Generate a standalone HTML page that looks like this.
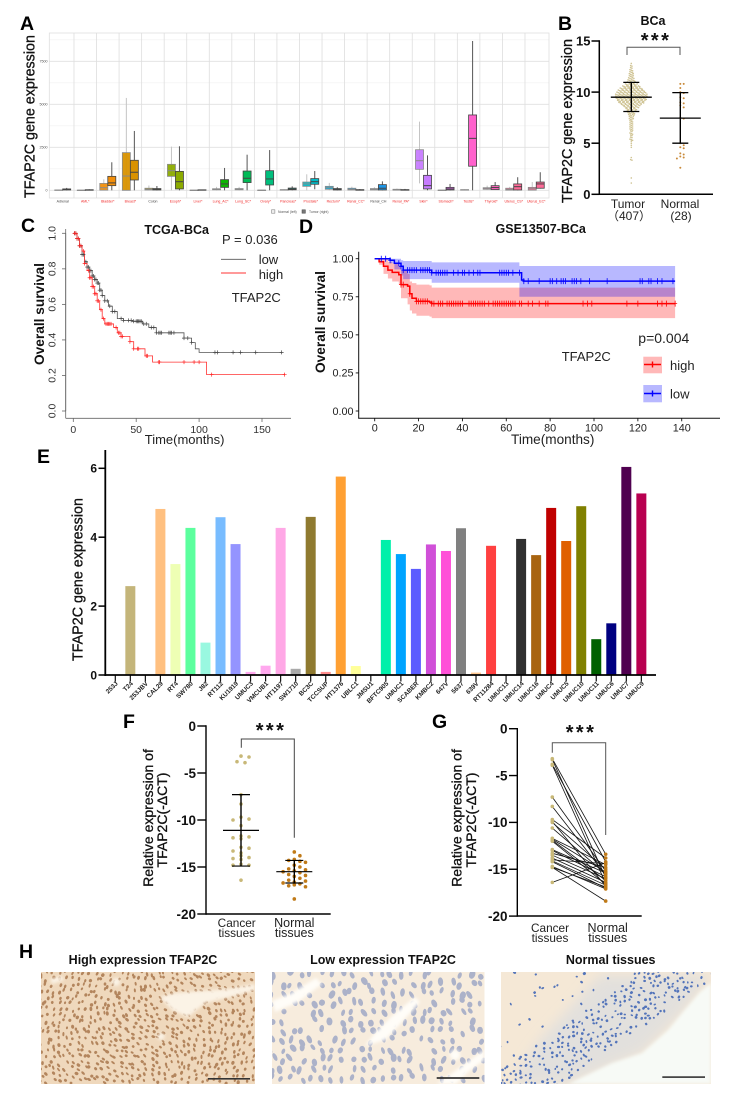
<!DOCTYPE html>
<html lang="en">
<head>
<meta charset="utf-8">
<title>TFAP2C expression figure</title>
<style>
html,body{margin:0;padding:0;background:#fff;}
svg{display:block;font-family:"Liberation Sans","Noto Sans CJK SC",sans-serif;}
.letter{font-size:19.5px;font-weight:bold;fill:#000;}
.title{font-size:12.5px;font-weight:bold;fill:#111;}
.faux{stroke:#111;stroke-width:.3px;fill:#111;}
.lab{fill:#222;}
.stars{font-size:20px;font-weight:bold;fill:#111;letter-spacing:2.4px;}
</style>
</head>
<body>
<svg id="fig" xmlns="http://www.w3.org/2000/svg" width="730" height="1094" viewBox="0 0 730 1094">
<defs>
<clipPath id="clip1"><rect x="41" y="972" width="214" height="112"/></clipPath>
<clipPath id="clip2"><rect x="272" y="972" width="212.5" height="112"/></clipPath>
<clipPath id="clip3"><rect x="501" y="972" width="210" height="112"/></clipPath>
<filter id="soft" x="-20%" y="-20%" width="140%" height="140%"><feGaussianBlur stdDeviation="1.6"/></filter>
<filter id="softer" x="-20%" y="-20%" width="140%" height="140%"><feGaussianBlur stdDeviation="6"/></filter>
</defs>
<g id="panelA">
<text class="letter" x="20" y="30">A</text>
<text class="faux" transform="translate(34.5,198) rotate(-90)" font-size="14.3">TFAP2C gene expression</text>
</g>
<g id="panelB">
<text class="letter" x="558" y="30">B</text>
<text class="title" x="653" y="25" text-anchor="middle">BCa</text>
<text class="stars" x="656" y="47" text-anchor="middle">***</text>
<path d="M627 55V47.3H680V55" fill="none" stroke="#555" stroke-width="1"/>
<text class="faux" transform="translate(572,203) rotate(-90)" font-size="14.4">TFAP2C gene expression</text>
<text class="lab" x="628" y="208" text-anchor="middle" font-size="12">Tumor</text>
<text class="lab" x="629" y="220" text-anchor="middle" font-size="12">（407）</text>
<text class="lab" x="680" y="208" text-anchor="middle" font-size="12">Normal</text>
<text class="lab" x="681" y="220" text-anchor="middle" font-size="12">(28)</text>
</g>
<g id="panelC">
<text class="letter" x="21" y="232">C</text>
<text class="title" x="176.7" y="234" text-anchor="middle">TCGA-BCa</text>
<text class="faux" transform="translate(44,314) rotate(-90)" text-anchor="middle" font-size="13.7" font-weight="bold" style="stroke-width:0">Overall survival</text>
<text class="lab" x="184.6" y="444" text-anchor="middle" font-size="13">Time(months)</text>
<text class="lab" x="222" y="244" font-size="13">P = 0.036</text>
<line x1="221" x2="246" y1="259.3" y2="259.3" stroke="#555" stroke-width=".9"/>
<text class="lab" x="258.7" y="264" font-size="13">low</text>
<line x1="221" x2="246" y1="273" y2="273" stroke="#f33" stroke-width=".9"/>
<text class="lab" x="258.7" y="279" font-size="13">high</text>
<text class="lab" x="231.7" y="302" font-size="13">TFAP2C</text>
</g>
<g id="panelD">
<text class="letter" x="299" y="233">D</text>
<text class="title" x="540.7" y="233" text-anchor="middle">GSE13507-BCa</text>
<text class="faux" transform="translate(325,322) rotate(-90)" text-anchor="middle" font-size="13.7" font-weight="bold" style="stroke-width:0">Overall survival</text>
<text class="lab" x="552.7" y="444" text-anchor="middle" font-size="13.6">Time(months)</text>
<text class="lab" x="638.3" y="343" font-size="14">p=0.004</text>
<text class="lab" x="561.7" y="361" font-size="13">TFAP2C</text>
<rect x="643.3" y="356.7" width="18.7" height="16.6" fill="#f00" fill-opacity=".28"/>
<path d="M644 364.5H661M652.5 361.5V367.5" stroke="#f00" stroke-width="1.4" fill="none"/>
<text class="lab" x="670" y="370" font-size="13">high</text>
<rect x="643.3" y="385" width="18.7" height="17.3" fill="#00f" fill-opacity=".28"/>
<path d="M644 393.5H661M652.5 390.5V396.5" stroke="#00f" stroke-width="1.4" fill="none"/>
<text class="lab" x="670" y="398.3" font-size="13">low</text>
</g>
<g id="panelE">
<text class="letter" x="37" y="463">E</text>
<text class="faux" transform="translate(82.7,661) rotate(-90)" font-size="14.3">TFAP2C gene expression</text>
</g>
<g id="panelF">
<text class="letter" x="123" y="728">F</text>
<text class="stars" x="271" y="737" text-anchor="middle">***</text>
<path d="M241.3 747.7V739H294.3V837.7" fill="none" stroke="#444" stroke-width="1"/>
<text class="faux" transform="translate(153,818) rotate(-90)" text-anchor="middle" font-size="14">Relative expression of</text>
<text class="faux" transform="translate(167,820) rotate(-90)" text-anchor="middle" font-size="14">TFAP2C(-ΔCT)</text>
<text class="lab" x="236.7" y="927" text-anchor="middle" font-size="11.8">Cancer</text>
<text class="lab" x="236.7" y="937" text-anchor="middle" font-size="11.8">tissues</text>
<text class="lab" x="294.3" y="927" text-anchor="middle" font-size="12.5">Normal</text>
<text class="lab" x="294.3" y="937" text-anchor="middle" font-size="12.5">tissues</text>
</g>
<g id="panelG">
<text class="letter" x="432" y="728">G</text>
<text class="stars" x="581" y="739" text-anchor="middle">***</text>
<path d="M552.3 752.7V742.7H605.7V835" fill="none" stroke="#555" stroke-width="1"/>
<text class="faux" transform="translate(461.7,818) rotate(-90)" text-anchor="middle" font-size="14">Relative expression of</text>
<text class="faux" transform="translate(476,820) rotate(-90)" text-anchor="middle" font-size="14">TFAP2C(-ΔCT)</text>
<text class="lab" x="550" y="932" text-anchor="middle" font-size="11.8">Cancer</text>
<text class="lab" x="550" y="942" text-anchor="middle" font-size="11.8">tissues</text>
<text class="lab" x="607.7" y="932" text-anchor="middle" font-size="12.5">Normal</text>
<text class="lab" x="607.7" y="942" text-anchor="middle" font-size="12.5">tissues</text>
</g>
<g id="panelH">
<text class="letter" x="19" y="958">H</text>
<text class="title" x="143" y="964" text-anchor="middle">High expression TFAP2C</text>
<text class="title" x="383" y="964" text-anchor="middle">Low expression TFAP2C</text>
<text class="title" x="610.7" y="964" text-anchor="middle">Normal tissues</text>
<g id="img1" clip-path="url(#clip1)">
<rect x="41" y="972" width="214" height="112" fill="#efd8bc"/>
</g>
<g id="img2" clip-path="url(#clip2)">
<rect x="272" y="972" width="212.5" height="112" fill="#f7ecdd"/>
</g>
<g id="img3" clip-path="url(#clip3)">
<rect x="501" y="972" width="210" height="112" fill="#f5e8d6"/>
</g>
</g>
</svg>
<script>
/* ---------- Panel A data ---------- */
const aCategories = ["Adrenal","AML*","Bladder*","Breast*","Colon","Esoph*","Liver*","Lung_AC*","Lung_SC*","Ovary*","Pancreas*","Prostate*","Rectum*","Renal_CC*","Renal_CH","Renal_PA*","Skin*","Stomach*","Testis*","Thyroid*","Uterus_CS*","Uterus_EC*"];
const aColors = ["#f8766d","#f0801a","#f28e0a","#d99200","#b79f00","#8cab00","#5bb300","#0cb702","#00ba56","#00bf7d","#00c1a3","#00bcc8","#00b0e0","#00a9ff","#1c96e8","#7997ff","#c77cff","#e76bf3","#ff61cc","#ff62bc","#ff6a98","#ff6a98"];
const aNormal = [[0,5,10,20,40],[0,3,5,8,10],[0,10,150,400,640],[0,0,830,2190,5370],[0,20,60,120,280],[0,810,1140,1510,2540],[0,2,5,8,10],[0,30,60,90,200],[0,30,60,100,200],[0,3,5,10,20],[0,10,20,40,60],[0,230,370,480,930],[0,60,150,230,430],[0,20,60,120,210],[0,20,50,100,180],[0,10,30,60,100],[400,1220,1720,2360,3990],[0,3,5,10,20],[0,10,20,40,60],[30,60,110,150,270],[0,10,50,120,200],[0,10,90,170,480]];
const aTumor = [[0,20,50,80,140],[0,5,15,35,60],[0,270,430,810,1630],[0,600,1050,1745,3450],[0,20,60,100,250],[0,80,500,1100,2560],[0,5,15,30,50],[0,170,370,620,1300],[0,450,700,1120,2070],[0,310,660,1140,2340],[0,30,70,130,230],[60,350,500,680,1120],[0,20,60,100,180],[0,5,15,40,70],[0,20,120,330,520],[0,5,20,40,80],[0,80,270,870,2030],[0,20,80,170,370],[0,1400,3020,4380,8680],[20,40,160,270,480],[0,20,210,370,760],[100,120,370,480,1050]];
const aYTicks = [0,2500,5000,7500];
const aYMinorTicks = [1250,3750,6250,8750];

/* ---------- Panel B data ---------- */
const bTumorBinValues = [12.8,12.6,12.4,12.2,12.0,11.8,11.6,11.4,11.2,11.0,10.8,10.6,10.4,10.2,10.0,9.8,9.6,9.4,9.2,9.0,8.8,8.6,8.4,8.2,8.0,7.8,7.6,7.4,7.2,7.0,6.8,6.6,6.4,6.2,6.0,5.8,5.6,5.4,5.2,5.0,4.8,4.6,3.6,3.4,1.6,1.1];
const bTumorBinCounts = [1,2,2,3,3,4,4,5,6,7,10,14,18,21,23,25,25,24,22,20,16,12,9,7,6,5,4,4,3,3,3,3,3,2,3,2,2,3,1,1,1,1,1,2,1,1];
const bNormalValues = [10.8,10.8,10.4,10.0,9.9,9.5,9.4,9.0,8.9,8.7,8.5,7.5,7.4,5.0,4.8,4.6,4.5,4.0,3.9,3.7,3.6,3.5,2.6];
const bTumorStats = [9.5,8.1,10.95];
const bNormalStats = [7.45,5.0,9.95];
const bYTicks = [0,5,10,15];

/* ---------- Panel C data ---------- */
const cLowTimes = [0,3,5,7,9,11,13,15,17,19,21,23,25,28,31,35,40,47,55,60,66,88,94,97,100,166];
const cLowSurv = [1,.97,.93,.88,.84,.81,.79,.76,.74,.72,.68,.65,.62,.59,.56,.52,.51,.505,.49,.47,.44,.41,.385,.35,.33,.33];
const cHighTimes = [0,3,5,7,9,11,13,15,17,19,21,23,25,32,35,38,45,48,57,63,106,168];
const cHighSurv = [1,.97,.93,.9,.83,.79,.75,.7,.66,.62,.57,.52,.49,.47,.44,.42,.39,.35,.31,.275,.205,.205];
const cLowCensor = [1,2,3,4,5,6,7,8,10,11,12,13,14,15,16,17,18,19,20,21,22,23,25,27,29,31,33,38,40,44,46,48,50,51,52,53,54,56,58,62,64,66,68,69,70,76,77,78,80,88,91,94,112.6,114.5,127,133,145,165.6];
const cHighCensor = [1,2,3,4,5,6,8,9,12,13,14,15,16,17,18,19,20,22,24,26,27,28,29,30,34,36,37,38,39,45,48,51,52,58,59,68,68.5,88,96,100,110,168];
const cXTicks = [0,50,100,150];
const cYTicks = [0,.2,.4,.6,.8,1];

/* ---------- Panel D data ---------- */
const dHighTimes = [0,2,4,6,8,11,12,15,16,17,19,25,26,137];
const dHighSurv = [1,.98,.95,.925,.91,.895,.83,.82,.77,.74,.72,.715,.705,.705];
const dHighUpper = [1,1,1,.98,.97,.95,.92,.9,.85,.84,.83,.825,.81,.81];
const dHighLower = [1,.96,.9,.87,.85,.83,.74,.7,.66,.64,.625,.62,.61,.61];
const dLowTimes = [0,7,9,12,13,26,66,67,68,137];
const dLowSurv = [1,.99,.97,.95,.925,.908,.908,.86,.853,.853];
const dLowUpper = [1,1,1,.99,.985,.976,.952,.952,.952,.952];
const dLowLower = [1,.97,.93,.89,.866,.842,.75,.75,.75,.75];
const dHighCensor = [12,13,16,19,20,21,22,23,24,26,27,29,30,31,33,34,35,36,37,38,39,40,43,44,45,46,47,48,49,50,52,54,55,56,57,58,59,60,61,62,63,64,66,67,70,72,75,78,79,95,97,99,115,120,129,131,133,137];
const dLowCensor = [3,5,7,11,12,13,15,16,17,18,19,21,22,23,24,25,26,28,29,30,31,32,33,36,38,40,41,43,45,47,48,57,58,59,60,61,63,66,68,70,75,80,81,83,85,86,87,90,91,92,94,98,106,121,122,125,126,129,131,136];
const dXTicks = [0,20,40,60,80,100,120,140];
const dYTicks = ["0.00","0.25","0.50","0.75","1.00"];

/* ---------- Panel E data ---------- */
const eCellLines = ["253J","T24","253JBV","CAL29","RT4","SW780","J82","RT112","KU1919","UMUC3","VMCUB1","HT1197","SW1710","BC3C","TCCSUP","HT1376","UBLC1","JMSU1","BFTC905","UMUC1","SCABER","KMBC2","647V","5637","639V","RT11284","UMUC13","UMUC14","UMUC16","UMUC4","UMUC5","UMUC10","UMUC11","UMUC6","UMUC7","UMUC9"];
const eValues = [0,2.58,0,4.82,3.22,4.27,.94,4.58,3.8,.09,.27,4.27,.18,4.59,.09,5.76,.26,0,3.92,3.51,3.08,3.79,3.6,4.26,.07,3.75,0,3.95,3.48,4.85,3.89,4.9,1.04,1.5,6.04,5.27];
const eColors = ["#888","#c4b57a","#888","#ffc080","#eeffb4","#5cff9e","#99f8e0","#78bcff","#9494ff","#ffa8ee","#ffa8ee","#ffa8e6","#aaaaaa","#8f7a30","#ff8c8c","#ffa033","#ffff99","#888","#00f0aa","#00a4ff","#5c5cff","#d050d8","#ff50d8","#808080","#ffc890","#ff4040","#888","#303030","#a86410","#c00000","#e06000","#808000","#006000","#000080","#500050","#b80050"];
const eYTicks = [0,2,4,6];

/* ---------- Panels F, G data ---------- */
const tissueCancer = [-3.2,-3.3,-3.8,-3.9,-7.3,-8.3,-9.7,-9.9,-10.0,-10.6,-11.7,-11.8,-11.9,-12.0,-12.9,-13.0,-13.3,-13.5,-13.8,-14.0,-14.1,-14.2,-14.7,-14.8,-14.8,-16.4];
const tissueNormal = [-13.4,-15.9,-14.2,-16.5,-15.2,-15.6,-13.8,-16.8,-15.0,-15.5,-14.5,-15.3,-16.2,-16.6,-15.4,-15.8,-14.8,-16.0,-16.4,-14.4,-16.7,-17.0,-17.1,-18.4,-16.9,-14.3];
const fCancerStats = [-11.1,-14.9,-7.3];
const fNormalStats = [-15.5,-16.7,-14.3];
const tissueYTicks = [0,-5,-10,-15,-20];

/* ---------- helpers ---------- */
const NS = "http://www.w3.org/2000/svg";
function mk(tag, attrs, parent){
  const e = document.createElementNS(NS, tag);
  for (const k in attrs) e.setAttribute(k, attrs[k]);
  parent.appendChild(e);
  return e;
}
function label(parent, nm, x, y, str, size, opts){
  const t = mk("text", Object.assign({x:x, y:y, "font-size":size, fill:"#222"}, opts || {}), parent);
  
  
  t.textContent = str;
  return t;
}
function rule(parent, nm, x1, y1, x2, y2, color, w){
  const l = mk("line", {x1:x1, y1:y1, x2:x2, y2:y2, stroke:color, "stroke-width":w}, parent);
  
  
  return l;
}
function stepPath(times, vals, sx, sy){
  let d = "M" + sx(times[0]).toFixed(1) + " " + sy(vals[0]).toFixed(1);
  for (let i = 1; i < times.length; i++){
    d += "H" + sx(times[i]).toFixed(1) + "V" + sy(vals[i]).toFixed(1);
  }
  return d;
}
function stepAt(times, vals, t){
  let v = vals[0];
  for (let i = 0; i < times.length; i++){ if (times[i] <= t) v = vals[i]; }
  return v;
}
function swarm(values, sy, gap, colStep, maxSlots){
  const order = values.map((v, i) => i).sort((a, b) => values[b] - values[a]);
  const placed = [], out = new Array(values.length);
  order.forEach(i => {
    const y = sy(values[i]);
    for (let k = 0; k < maxSlots; k++){
      const dx = (k % 2 ? 1 : -1) * Math.ceil(k / 2) * colStep;
      if (!placed.some(p => Math.hypot(p[0] - dx, p[1] - y) < gap)){
        placed.push([dx, y]);
        out[i] = dx;
        break;
      }
    }
    if (out[i] === undefined) out[i] = 0;
  });
  return out;
}

/* ---------- Panel A ---------- */
(function(){
  const g = document.getElementById("panelA");
  const y = v => 190.3 - v * 43 / 2500;
  const xc = i => 62.7 + i * 22.55;
  const L = 49.3, R = 549, T = 33, B = 198;
  aYMinorTicks.forEach(v => rule(g, 'minor-gridline-a', L, y(v), R, y(v), '#f0f0f0', .7));
  aYTicks.forEach(v => {
    rule(g, 'major-gridline-a', L, y(v), R, y(v), '#e0e0e0', .8);
    label(g, 'y-tick-label-a', 47.5, y(v) + 1.2, String(v), 3.6, {"text-anchor":"end", fill:"#555"});
  });
  aCategories.forEach((c, i) => {
    if (i > 0) rule(g, 'facet-gridline-a', xc(i) - 11.27, T, xc(i) - 11.27, B, '#dedede', .8);
    label(g, 'category-label-a', xc(i), 202.3, c, 3.5, {"text-anchor":"middle", fill: c.indexOf("*") >= 0 ? "#f02828" : "#444"});
  });
  const frame = mk("rect", {x:L, y:T, width:R-L, height:B-T, fill:"none", stroke:"#dedede", "stroke-width":.8}, g);
  
  
  function box(d, cx, color, edge, whisk, alpha, nm){
    rule(g, nm + '-whisker', cx, y(d[0]), cx, y(d[4]), whisk, 1);
    const r = mk("rect", {x:cx - 4, y:y(d[3]), width:8, height:Math.max(.4, y(d[1]) - y(d[3])), fill:color, "fill-opacity":alpha, stroke:edge, "stroke-width":.8}, g);
    
    
    rule(g, nm + '-median', cx - 4, y(d[2]), cx + 4, y(d[2]), edge, 1);
  }
  aCategories.forEach((c, i) => {
    box(aNormal[i], xc(i) - 4, aColors[i], '#8a8a8a', '#c4c4c4', .95, 'normal');
    box(aTumor[i], xc(i) + 4, aColors[i], '#444', '#555', 1, 'tumor');
  });
  const s1 = mk("rect", {x:271.5, y:209.8, width:3.4, height:3.4, fill:"#eee", stroke:"#777", "stroke-width":.5}, g);
  
  
  label(g, 'legend-label-normal-a', 278, 212.8, 'Normal (left)', 3.4, {fill:"#555"});
  const s2 = mk("rect", {x:302, y:209.8, width:3.4, height:3.4, fill:"#777", stroke:"#444", "stroke-width":.5}, g);
  
  
  label(g, 'legend-label-tumor-a', 309, 212.8, 'Tumor (right)', 3.4, {fill:"#555"});
})();

/* ---------- Panel B ---------- */
(function(){
  const g = document.getElementById("panelB");
  const y = v => 194.3 - v * 10.22;
  const xT = 631.3, xN = 680.3;
  bTumorBinValues.forEach((v, i) => {
    const n = bTumorBinCounts[i];
    for (let k = 0; k < n; k++){
      const c = mk("circle", {cx: xT + (k - (n - 1) / 2) * 1.3, cy: y(v) + (k % 3) * .6, r: .8, fill:"#cfc393"}, g);
      
      
    }
  });
  const off = swarm(bNormalValues, y, 2.6, 3.4, 9);
  bNormalValues.forEach((v, i) => {
    const c = mk("circle", {cx: xN + off[i], cy: y(v), r: 1, fill:"#c98a3a"}, g);
    
    
  });
  function stats(s, cx, nm){
    rule(g, nm + '-mean-line', cx - 20.5, y(s[0]), cx + 20.5, y(s[0]), '#000', 1.3);
    rule(g, nm + '-error-bar', cx, y(s[1]), cx, y(s[2]), '#000', 1.4);
    rule(g, nm + '-error-cap-low', cx - 8, y(s[1]), cx + 8, y(s[1]), '#000', 1.3);
    rule(g, nm + '-error-cap-high', cx - 8, y(s[2]), cx + 8, y(s[2]), '#000', 1.3);
  }
  stats(bTumorStats, xT, 'tumor');
  stats(bNormalStats, xN, 'normal');
  rule(g, 'y-axis-b', 599.3, y(15) - .7, 599.3, y(0) + .7, '#000', 1.5);
  rule(g, 'x-axis-b', 599.3, y(0), 713, y(0), '#000', 1.5);
  bYTicks.forEach(v => {
    rule(g, 'y-tick-b', 591.5, y(v), 599.3, y(v), '#000', 1.5);
    label(g, 'y-tick-label-b', 590.5, y(v) + 4.7, String(v), 13, {"text-anchor":"end", "font-weight":"bold", fill:"#111"});
  });
})();

/* ---------- Panel C ---------- */
(function(){
  const g = document.getElementById("panelC");
  const x = t => 73.3 + t * 1.258;
  const y = s => 411 - s * 177.7;
  rule(g, 'y-axis-c', 65.7, y(1), 65.7, y(0), '#666', .8);
  rule(g, 'y-axis-extension-c', 65.7, 229, 65.7, 418.3, '#666', .8);
  rule(g, 'x-axis-c', 65.7, 418.3, 291, 418.3, '#666', .8);
  cYTicks.forEach(v => {
    rule(g, 'y-tick-c', 62, y(v), 65.7, y(v), '#666', .8);
    label(g, 'y-tick-label-c', 0, 0, v.toFixed(1), 10.5, {"text-anchor":"middle", fill:"#333", transform:"translate(55.5," + y(v) + ") rotate(-90)"});
  });
  cXTicks.forEach(v => {
    rule(g, 'x-tick-c', x(v), 418.3, x(v), 422, '#666', .8);
    label(g, 'x-tick-label-c', x(v), 433, String(v), 10.5, {"text-anchor":"middle", fill:"#333"});
  });
  const lo = mk("path", {d: stepPath(cLowTimes, cLowSurv, x, y), fill:"none", stroke:"#555", "stroke-width":.8}, g);
  
  
  const hi = mk("path", {d: stepPath(cHighTimes, cHighSurv, x, y), fill:"none", stroke:"#f33", "stroke-width":.8}, g);
  
  
  function censor(list, times, surv, color, nm){
    list.forEach(t => {
      const px = x(t), py = y(stepAt(times, surv, t));
      const p = mk("path", {d:"M" + (px - 2) + " " + py + "H" + (px + 2) + "M" + px + " " + (py - 2) + "V" + (py + 2), stroke:color, "stroke-width":.7, fill:"none"}, g);
      
      
    });
  }
  censor(cLowCensor, cLowTimes, cLowSurv, '#444', 'censor-mark-low-c');
  censor(cHighCensor, cHighTimes, cHighSurv, '#f22', 'censor-mark-high-c');
})();

/* ---------- Panel D ---------- */
(function(){
  const g = document.getElementById("panelD");
  const x = t => 374.7 + t * 2.193;
  const y = s => 411 - s * 152.3;
  function band(times, up, low, color, nm){
    let d = stepPath(times, up, x, y);
    for (let i = times.length - 1; i >= 0; i--){
      d += "L" + x(times[i]).toFixed(1) + " " + y(low[i]).toFixed(1);
      if (i > 0) d += "V" + y(low[i - 1]).toFixed(1);
    }
    const p = mk("path", {d: d + "Z", fill:color, "fill-opacity":.28, stroke:"none"}, g);
    
    
  }
  band(dHighTimes, dHighUpper, dHighLower, '#f00', 'confidence-band-high-d');
  band(dLowTimes, dLowUpper, dLowLower, '#00f', 'confidence-band-low-d');
  const hi = mk("path", {d: stepPath(dHighTimes, dHighSurv, x, y), fill:"none", stroke:"#f00", "stroke-width":1.5}, g);
  
  
  const lo = mk("path", {d: stepPath(dLowTimes, dLowSurv, x, y), fill:"none", stroke:"#00f", "stroke-width":1.5}, g);
  
  
  function censor(list, times, surv, color, nm){
    list.forEach(t => {
      const px = x(t), py = y(stepAt(times, surv, t));
      const p = mk("path", {d:"M" + (px - 2) + " " + py + "H" + (px + 2) + "M" + px + " " + (py - 3) + "V" + (py + 3), stroke:color, "stroke-width":.8, fill:"none"}, g);
      
      
    });
  }
  censor(dHighCensor, dHighTimes, dHighSurv, '#f00', 'censor-mark-high-d');
  censor(dLowCensor, dLowTimes, dLowSurv, '#00f', 'censor-mark-low-d');
  rule(g, 'y-axis-d', 358.7, 251.7, 358.7, 418.3, '#111', 1);
  rule(g, 'x-axis-d', 358.2, 418.3, 720, 418.3, '#111', 1);
  dYTicks.forEach(v => {
    const n = parseFloat(v);
    rule(g, 'y-tick-d', 355.7, y(n), 358.7, y(n), '#111', .9);
    label(g, 'y-tick-label-d', 353.5, y(n) + 3.8, v, 10.8, {"text-anchor":"end"});
  });
  dXTicks.forEach(v => {
    rule(g, 'x-tick-d', x(v), 418.3, x(v), 421.3, '#111', .9);
    label(g, 'x-tick-label-d', x(v), 431.5, String(v), 10.8, {"text-anchor":"middle"});
  });
})();

/* ---------- Panel E ---------- */
(function(){
  const g = document.getElementById("panelE");
  const x = i => 115.3 + i * 15.03;
  const y = v => 675 - v * 34.45;
  eCellLines.forEach((c, i) => {
    const b = mk("rect", {x:x(i) - 5, y:y(eValues[i]), width:10, height:675 - y(eValues[i]), fill:eColors[i]}, g);
    
    
    rule(g, 'x-tick-e', x(i), 675, x(i), 681.5, '#111', 1.2);
    label(g, 'x-tick-label-e', 0, 0, c, 6.4, {"text-anchor":"end", "font-weight":"bold", fill:"#222", transform:"translate(" + (x(i) + 3) + ",684) rotate(-45)"});
  });
  rule(g, 'y-axis-e', 105.3, 450, 105.3, 676, '#000', 1.8);
  rule(g, 'x-axis-e', 104.4, 675, 656, 675, '#000', 1.8);
  eYTicks.forEach(v => {
    rule(g, 'y-tick-e', 98.5, y(v), 105.3, y(v), '#000', 1.5);
    label(g, 'y-tick-label-e', 97, y(v) + 4.4, String(v), 12, {"text-anchor":"end", "font-weight":"bold", fill:"#111"});
  });
})();

/* ---------- Panel F ---------- */
(function(){
  const g = document.getElementById("panelF");
  const yy = v => 726 - v * 9.4;
  const xC = 241, xN = 294.3;
  const oc = swarm(tissueCancer, yy, 6.5, 4, 7);
  tissueCancer.forEach((v, i) => {
    const c = mk("circle", {cx: xC + oc[i], cy: yy(v), r: 1.8, fill:"#c8b878"}, g);
    
    
  });
  const on = swarm(tissueNormal, yy, 5, 5.6, 5);
  tissueNormal.forEach((v, i) => {
    const c = mk("circle", {cx: xN + on[i], cy: yy(v), r: 1.8, fill:"#c07a18"}, g);
    
    
  });
  function stats(s, cx, nm){
    rule(g, nm + '-mean-line-f', cx - 18, yy(s[0]), cx + 18, yy(s[0]), '#000', 1.2);
    rule(g, nm + '-error-bar-f', cx, yy(s[1]), cx, yy(s[2]), '#000', 1.4);
    rule(g, nm + '-error-cap-low-f', cx - 9, yy(s[1]), cx + 9, yy(s[1]), '#000', 1.2);
    rule(g, nm + '-error-cap-high-f', cx - 9, yy(s[2]), cx + 9, yy(s[2]), '#000', 1.2);
  }
  stats(fCancerStats, xC, 'cancer');
  stats(fNormalStats, xN, 'normal');
  rule(g, 'y-axis-f', 206, 725.3, 206, 914.7, '#000', 1.4);
  rule(g, 'x-axis-f', 206, 914, 330.7, 914, '#000', 1.4);
  tissueYTicks.forEach(v => {
    rule(g, 'y-tick-f', 197.3, yy(v), 206, yy(v), '#000', 1.4);
    label(g, 'y-tick-label-f', 196, yy(v) + 4.8, String(v), 13.5, {"text-anchor":"end", "font-weight":"bold", fill:"#111"});
  });
})();

/* ---------- Panel G ---------- */
(function(){
  const g = document.getElementById("panelG");
  const y = v => 728.7 - v * 9.37;
  const xC = 552.3, xN = 605.7;
  tissueCancer.forEach((v, i) => {
    rule(g, 'pair-line-g', xC, y(v), xN, y(tissueNormal[i]), '#111', .8);
  });
  tissueCancer.forEach(v => {
    const c = mk("circle", {cx: xC, cy: y(v), r: 1.8, fill:"#c8b878"}, g);
    
    
  });
  tissueNormal.forEach(v => {
    const c = mk("circle", {cx: xN, cy: y(v), r: 1.8, fill:"#c07a18"}, g);
    
    
  });
  rule(g, 'y-axis-g', 517.3, 728, 517.3, 916.7, '#000', 1.4);
  rule(g, 'x-axis-g', 517.3, 916, 641.7, 916, '#000', 1.4);
  tissueYTicks.forEach(v => {
    rule(g, 'y-tick-g', 509, y(v), 517.3, y(v), '#000', 1.4);
    label(g, 'y-tick-label-g', 507.5, y(v) + 4.8, String(v), 13.5, {"text-anchor":"end", "font-weight":"bold", fill:"#111"});
  });
})();

/* ---------- Panel H textures ---------- */
(function(){
  let seed = 20240611;
  function rnd(){ seed = (seed * 1664525 + 1013904223) >>> 0; return seed / 4294967296; }
  function ell(cx, cy, rx, ry, deg){
    const a = deg * Math.PI / 180, c = Math.cos(a) * rx, s = Math.sin(a) * rx;
    const r = deg.toFixed(0);
    return "M" + (cx - c).toFixed(1) + " " + (cy - s).toFixed(1) +
      "a" + rx.toFixed(1) + " " + ry.toFixed(1) + " " + r + " 1 0 " + (2 * c).toFixed(1) + " " + (2 * s).toFixed(1) +
      "a" + rx.toFixed(1) + " " + ry.toFixed(1) + " " + r + " 1 0 " + (-2 * c).toFixed(1) + " " + (-2 * s).toFixed(1) + "Z";
  }
  /* image 1: brown nuclei */
  const g1 = document.getElementById("img1");
  let d1 = "";
  for (let y = 973; y < 1086; y += 6){
    for (let x = 41; x < 257; x += 6.2){
      const px = x + rnd() * 5 - 2.5, py = y + rnd() * 5 - 2.5;
      const deg = 60 + 40 * Math.sin((px - 41) / 40 + (py - 972) / 30) + rnd() * 30;
      d1 += ell(px, py, 1.4 + rnd() * .8, .9 + rnd() * .5, deg);
    }
  }
  const n1 = mk("path", {d:d1, fill:"#a8774c", "fill-opacity":.85}, g1);
  
  
  const w1 = mk("path", {d:"M160 997L175 993L200 991L228 989L255 984V990L230 997L205 1003L188 1017L172 1010Z M116 978a4 4 0 1 0 .1 0Z M161 1033a3.5 3.5 0 1 0 .1 0Z M50 979l12 -3l2 4l-12 4Z", fill:"#fbf3e6", filter:"url(#soft)"}, g1);
  
  
  const bar1 = mk("rect", {x:208, y:1078, width:42, height:1.6, fill:"#333"}, g1);
  
  

  /* image 2: grey-blue nuclei */
  const g2 = document.getElementById("img2");
  let d2 = "";
  for (let y = 974; y < 1086; y += 9.5){
    for (let x = 272; x < 486; x += 10){
      const px = x + rnd() * 6 - 3, py = y + rnd() * 6 - 3;
      if (rnd() < .16) continue;
      d2 += ell(px, py, 2.8 + rnd() * 1.6, 1.7 + rnd() * 1, 50 + rnd() * 70);
    }
  }
  const n2 = mk("path", {d:d2, fill:"#a3acc6", "fill-opacity":.9}, g2);
  
  
  const w2 = mk("path", {d:"M272 1001L290 994L316 978L322 984L298 1002L275 1012Z M375 1033L392 1016L415 997L420 1002L402 1022L385 1040L365 1046Z M437 1084L462 1066L484 1050V1060L468 1072L456 1084Z M455 1050a5 5 0 1 0 .1 0Z", fill:"#fffdf8", filter:"url(#soft)"}, g2);
  
  
  const bar2 = mk("rect", {x:436.7, y:1077.2, width:42.6, height:1.6, fill:"#222"}, g2);
  
  

  /* image 3: blue nuclei and stroma, white background at bottom right */
  const g3 = document.getElementById("img3");
  const shade = mk("path", {d:"M600 975H711L682 1013L642 1053L568 1084H510L540 1040Z", fill:"#cdd6e4", "fill-opacity":.45, filter:"url(#softer)"}, g3);
  
  
  const white = mk("path", {d:"M711 983L700 992L682 1013L668 1030L642 1053L612 1063L568 1084H711Z", fill:"#f7faf6", filter:"url(#soft)"}, g3);
  
  
  let d3 = "";
  for (let y = 973; y < 1086; y += 4.6){
    for (let x = 501; x < 713; x += 4.8){
      const px = x + rnd() * 3.6 - 1.8, py = y + rnd() * 3.6 - 1.8;
      const f = .9 * (px - 501) / 210 + .68 * (py - 972) / 112;
      if (f > .95) continue;
      const keep = f > .6 ? .7 : .09;
      if (rnd() > keep) continue;
      d3 += ell(px, py, 1 + rnd() * .6, .8 + rnd() * .4, rnd() * 180);
    }
  }
  const n3 = mk("path", {d:d3, fill:"#4468b6", "fill-opacity":.9}, g3);
  
  
  const bar3 = mk("rect", {x:662.3, y:1076.3, width:42.7, height:1.6, fill:"#333"}, g3);
  
  
})();
</script>
</body>
</html>
